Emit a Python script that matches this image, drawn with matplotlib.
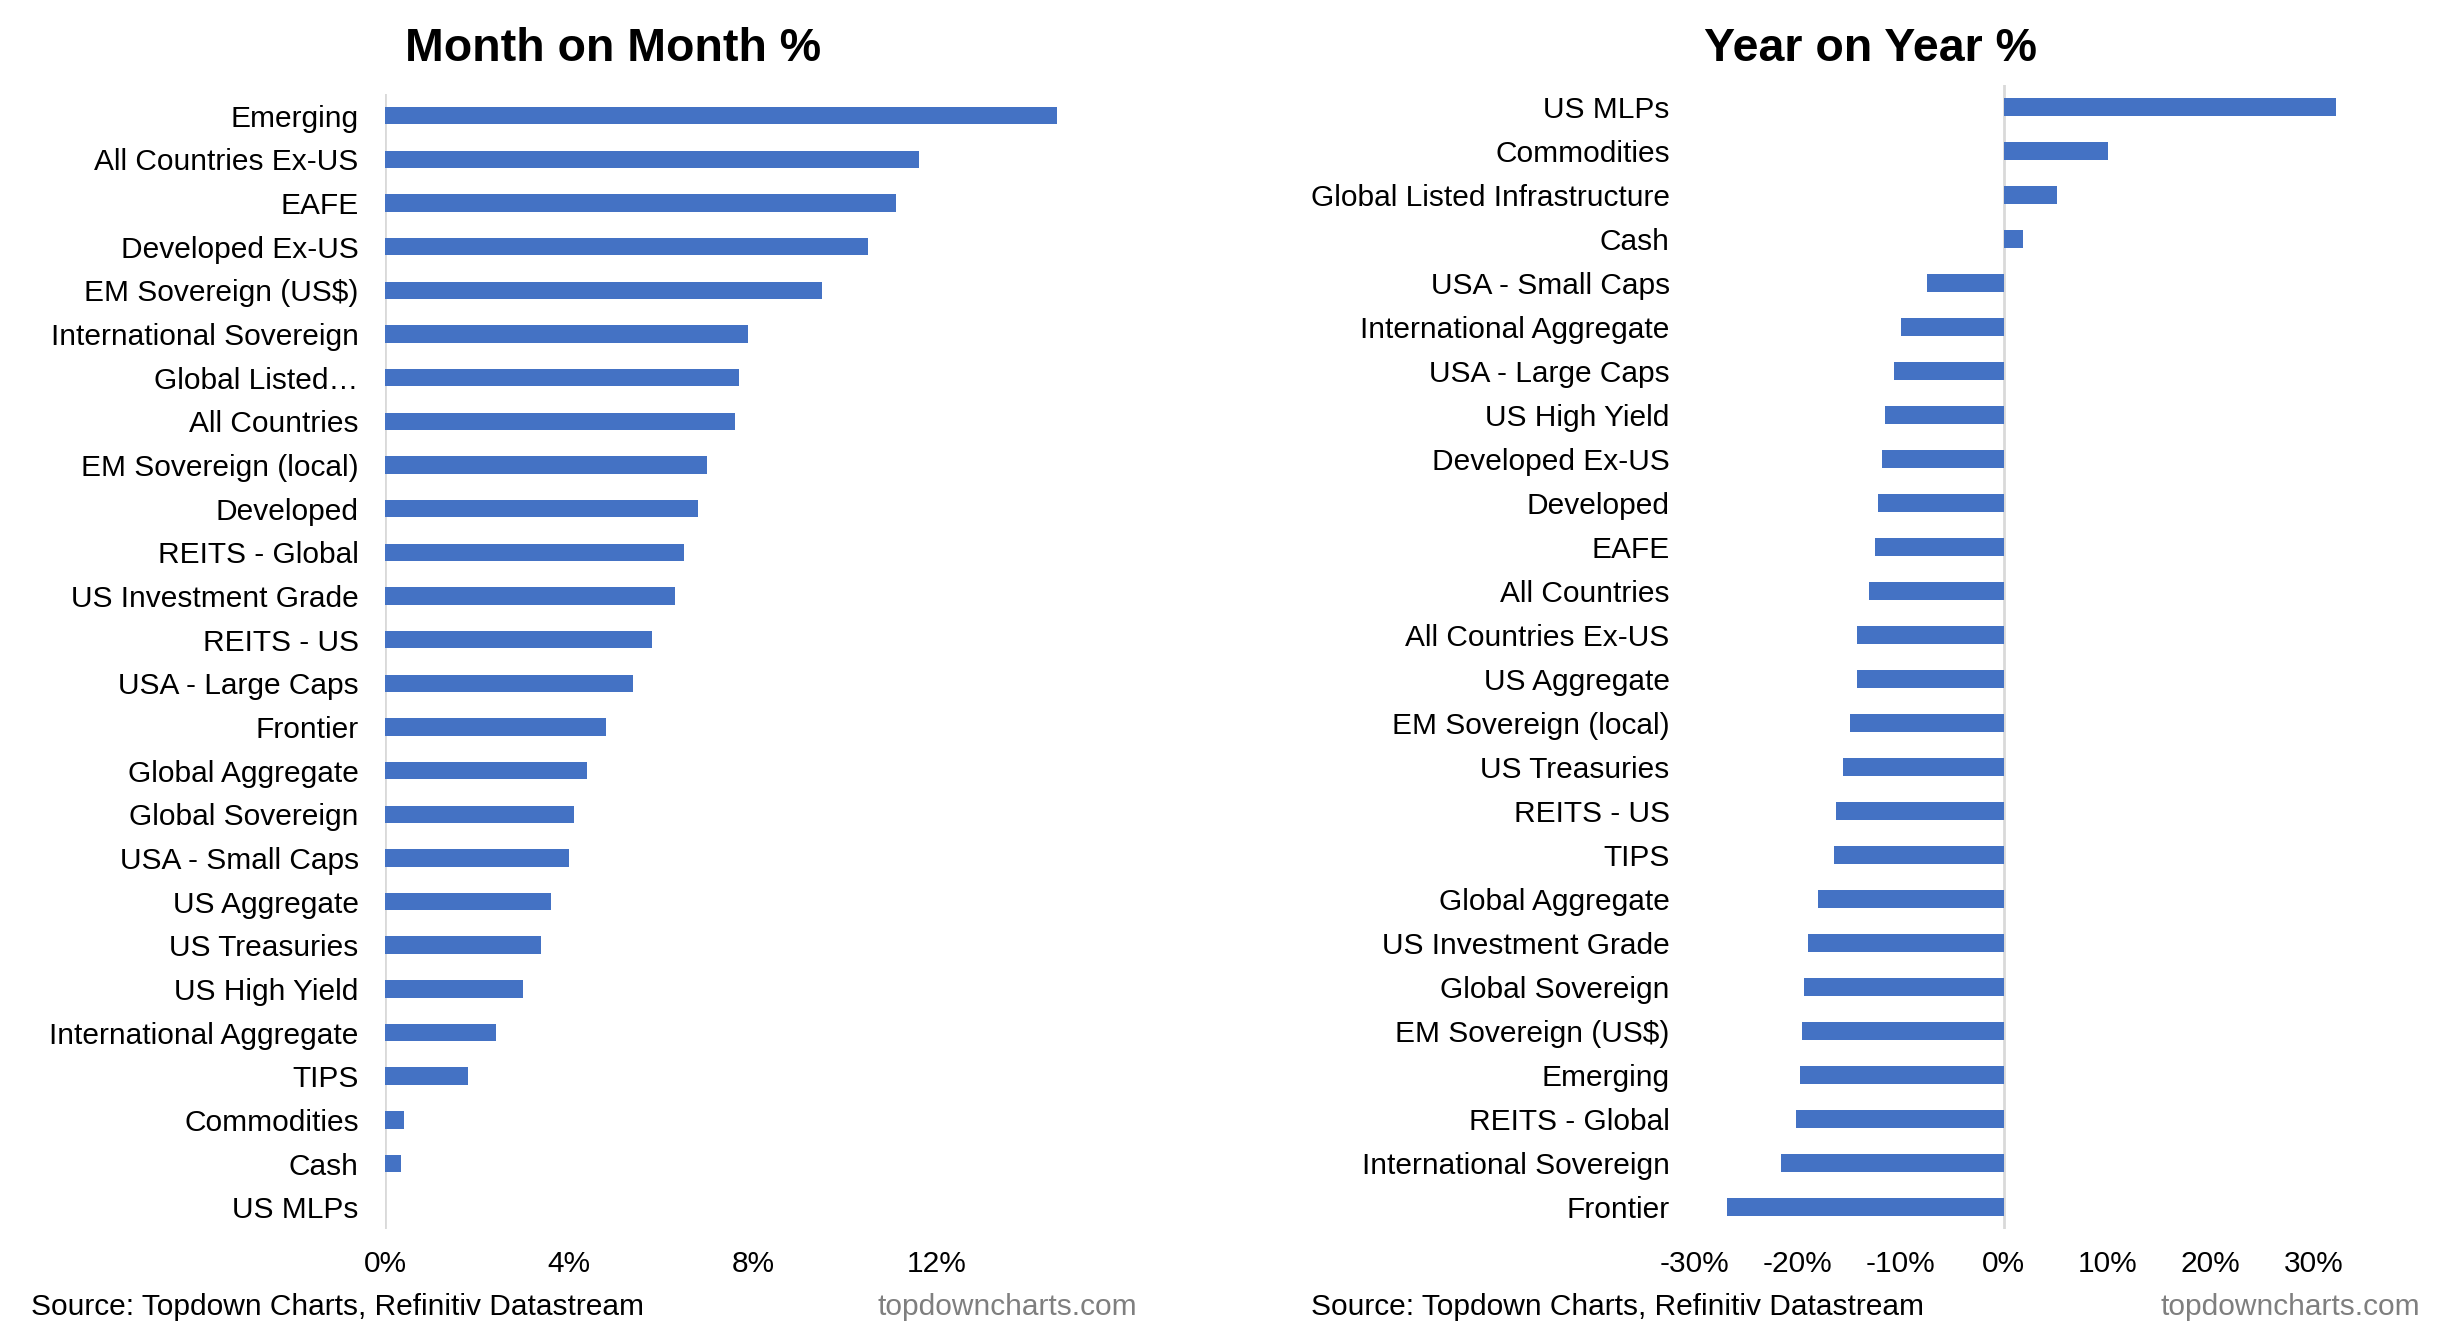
import matplotlib
matplotlib.use("Agg")
import matplotlib.pyplot as plt

plt.rcParams['font.family'] = ['Liberation Sans', 'DejaVu Sans']

# Month on Month % (top to bottom)
mom_labels = ['Emerging', 'All Countries Ex-US', 'EAFE', 'Developed Ex-US',
              'EM Sovereign (US$)', 'International Sovereign', 'Global Listed…',
              'All Countries', 'EM Sovereign (local)', 'Developed',
              'REITS - Global', 'US Investment Grade', 'REITS - US',
              'USA - Large Caps', 'Frontier', 'Global Aggregate',
              'Global Sovereign', 'USA - Small Caps', 'US Aggregate',
              'US Treasuries', 'US High Yield', 'International Aggregate',
              'TIPS', 'Commodities', 'Cash', 'US MLPs']
mom_values = [14.6, 11.6, 11.1, 10.5, 9.5, 7.9, 7.7, 7.6, 7.0, 6.8,
              6.5, 6.3, 5.8, 5.4, 4.8, 4.4, 4.1, 4.0, 3.6, 3.4,
              3.0, 2.4, 1.8, 0.4, 0.35, -0.5]
mom_ticks = [0, 4, 8, 12]

# Year on Year % (top to bottom)
yoy_labels = ['US MLPs', 'Commodities', 'Global Listed Infrastructure', 'Cash',
              'USA - Small Caps', 'International Aggregate', 'USA - Large Caps',
              'US High Yield', 'Developed Ex-US', 'Developed', 'EAFE',
              'All Countries', 'All Countries Ex-US', 'US Aggregate',
              'EM Sovereign (local)', 'US Treasuries', 'REITS - US', 'TIPS',
              'Global Aggregate', 'US Investment Grade', 'Global Sovereign',
              'EM Sovereign (US$)', 'Emerging', 'REITS - Global',
              'International Sovereign', 'Frontier']
yoy_values = [32.2, 10.1, 5.1, 1.9, -7.4, -10.0, -10.6, -11.5, -11.8, -12.2,
              -12.5, -13.1, -14.2, -14.2, -14.9, -15.6, -16.3, -16.4, -18.0,
              -19.0, -19.4, -19.5, -19.7, -20.1, -21.6, -26.8]
yoy_ticks = [-30, -20, -10, 0, 10, 20, 30]

bar_color = '#4472C4'
label_size = 21.5

fig = plt.figure(figsize=(24.53, 13.36), dpi=100)
ax1 = fig.add_axes([0.1570, 0.0801, 0.3000, 0.8496])
ax2 = fig.add_axes([0.6906, 0.0801, 0.2947, 0.8563])


def style_axis(ax, labels, values, ticks, xlim, ypad):
    pos = list(range(len(labels)))
    ax.barh(pos, values, height=0.4, color=bar_color, zorder=2)
    ax.set_yticks(pos)
    ax.set_yticklabels(labels)
    ax.set_ylim(len(labels) - 0.5, -0.5)
    ax.set_xlim(*xlim)
    ax.set_xticks(ticks)
    ax.set_xticklabels([f'{t}%' for t in ticks])
    ax.axvline(0, color='#D9D9D9', lw=2, zorder=1)
    for s in ax.spines.values():
        s.set_visible(False)
    ax.tick_params(axis='both', length=0, labelsize=label_size)
    ax.tick_params(axis='y', pad=ypad)
    ax.tick_params(axis='x', pad=15)


style_axis(ax1, mom_labels, mom_values, mom_ticks, (0, 16), 19)
style_axis(ax2, yoy_labels, yoy_values, yoy_ticks, (-30, 40), 17.5)

fig.text(613 / 2453, 1 - 49 / 1336, 'Month on Month %', ha='center', va='center',
         fontsize=33.5, fontweight='bold')
fig.text(1870 / 2453, 1 - 49 / 1336, 'Year on Year %', ha='center', va='center',
         fontsize=33.5, fontweight='bold')

src = 'Source: Topdown Charts, Refinitiv Datastream'
fig.text(31 / 2453, 1 - 1307 / 1336, src, ha='left', va='center', fontsize=label_size)
fig.text(1311 / 2453, 1 - 1307 / 1336, src, ha='left', va='center', fontsize=label_size)
fig.text(1137 / 2453, 1 - 1307 / 1336, 'topdowncharts.com', ha='right', va='center',
         fontsize=label_size, color='#7F7F7F')
fig.text(2420 / 2453, 1 - 1307 / 1336, 'topdowncharts.com', ha='right', va='center',
         fontsize=label_size, color='#7F7F7F')

fig.savefig('out.png', dpi=100, facecolor='white')
